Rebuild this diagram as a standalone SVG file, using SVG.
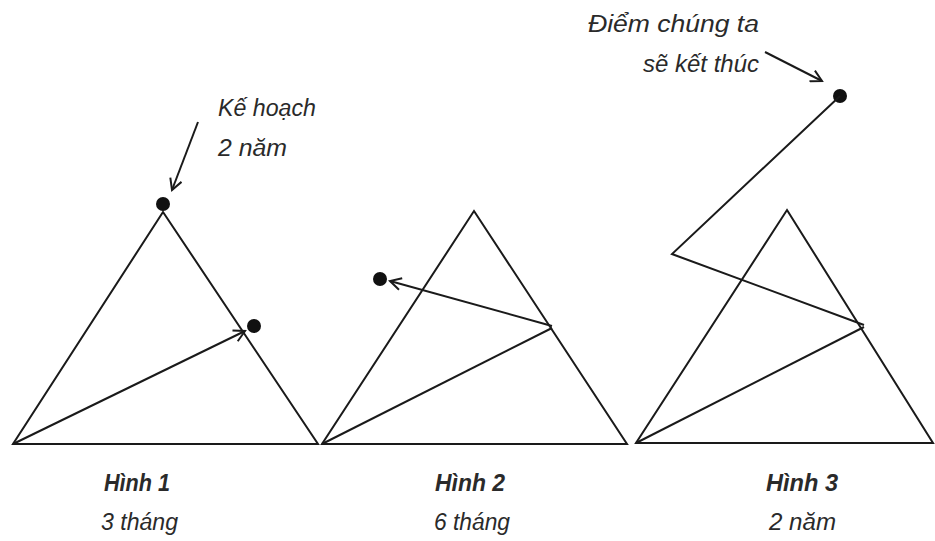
<svg xmlns="http://www.w3.org/2000/svg" width="935" height="541" viewBox="0 0 935 541">
<defs>
<marker id="arr" viewBox="-12 -7 14 14" markerWidth="14" markerHeight="14" refX="0" refY="0" orient="auto" markerUnits="userSpaceOnUse">
<path d="M-11,-6 L0,0 L-11,6" fill="none" stroke="#1a1a1a" stroke-width="2"/>
</marker>
</defs>
<style>
.ln{fill:none;stroke:#1a1a1a;stroke-width:2;stroke-linejoin:miter}
.dot{fill:#111}
.t{font-family:"Liberation Sans",Arial,sans-serif;font-style:italic;font-size:23px;fill:#2a2a2a}
.b{font-weight:bold}
</style>
<rect width="935" height="541" fill="#fff"/>
<g id="fig1">
<polygon class="ln" points="163,212 318,444 13,444"/>
<circle class="dot" cx="163" cy="204" r="7"/>
<circle class="dot" cx="254" cy="326" r="7"/>
</g>
<g id="fig2">
<polygon class="ln" points="474,211 627,444 322,444"/>
<circle class="dot" cx="380" cy="279" r="7"/>
</g>
<g id="fig3">
<polygon class="ln" points="787,210 933,443 636,443"/>
<circle class="dot" cx="840" cy="96" r="7"/>
</g>
<g id="connectors">
<line class="ln" x1="13" y1="444" x2="245" y2="331" marker-end="url(#arr)"/>
<line class="ln" x1="198" y1="122" x2="172" y2="190" marker-end="url(#arr)"/>
<line class="ln" x1="322" y1="444" x2="552" y2="328"/>
<line class="ln" x1="552" y1="326" x2="390" y2="281" marker-end="url(#arr)"/>
<line class="ln" x1="636" y1="443" x2="864" y2="327"/>
<polyline class="ln" points="864,325 672,254 840,96"/>
<line class="ln" x1="765" y1="52" x2="822" y2="81" marker-end="url(#arr)"/>
</g>
<g id="labels">
<text class="t" x="218" y="116" textLength="98" lengthAdjust="spacingAndGlyphs">Kế hoạch</text>
<text class="t" x="218" y="156" textLength="69" lengthAdjust="spacingAndGlyphs">2 năm</text>
<text class="t" x="588" y="32" textLength="171" lengthAdjust="spacingAndGlyphs">Điểm chúng ta</text>
<text class="t" x="643" y="72" textLength="116" lengthAdjust="spacingAndGlyphs">sẽ kết thúc</text>
<text class="t b" x="104" y="491" textLength="66" lengthAdjust="spacingAndGlyphs">Hình 1</text>
<text class="t" x="101" y="530" textLength="77" lengthAdjust="spacingAndGlyphs">3 tháng</text>
<text class="t b" x="435" y="491" textLength="70" lengthAdjust="spacingAndGlyphs">Hình 2</text>
<text class="t" x="434" y="530" textLength="76" lengthAdjust="spacingAndGlyphs">6 tháng</text>
<text class="t b" x="766" y="491" textLength="72" lengthAdjust="spacingAndGlyphs">Hình 3</text>
<text class="t" x="769" y="530" textLength="67" lengthAdjust="spacingAndGlyphs">2 năm</text>
</g>
</svg>
